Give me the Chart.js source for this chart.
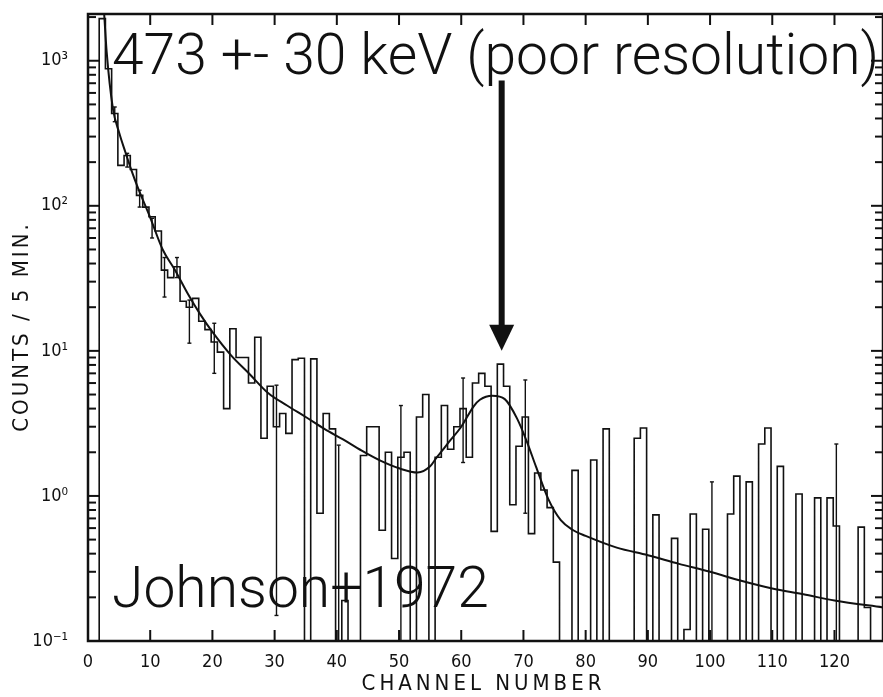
<!DOCTYPE html>
<html>
<head>
<meta charset="utf-8">
<title>Counts per channel</title>
<script src="https://cdn.jsdelivr.net/npm/chart.js@4.4.0/dist/chart.umd.min.js"></script>
<style>
  html, body { margin: 0; padding: 0; background: #fff; }
</style>
</head>
<body>
<canvas id="myChart" width="883" height="697"></canvas>
<script>
// counts / 5 min for channels 2..127 (0 = empty channel)
const firstChannel = 2;
const counts = [
  1950, 880, 433, 190, 222, 178, 118, 98, 84, 67,
  36, 32, 38, 22, 20, 23, 16, 14, 11.5, 9.8,
  4.0, 14.2, 9.0, 9.0, 6.0, 12.4, 2.5, 5.7, 3.0, 3.7,
  2.7, 8.7, 8.9, 0, 8.8, 0.76, 3.7, 2.9, 0, 0.19,
  0, 0, 1.9, 3.0, 3.0, 0.58, 2.0, 0.37, 1.85, 2.0,
  0, 3.5, 5.0, 0, 1.85, 4.2, 2.1, 3.0, 4.0, 1.85,
  6.0, 7.0, 5.7, 0.57, 8.1, 5.7, 0.87, 2.2, 3.5, 0.55,
  1.44, 1.1, 0.83, 0.35, 0, 0, 1.5, 0, 0, 1.77,
  0, 2.9, 0, 0, 0, 0, 2.5, 2.94, 0, 0.74,
  0, 0, 0.51, 0, 0.12, 0.75, 0, 0.59, 0, 0,
  0, 0.75, 1.37, 0, 1.25, 0, 2.28, 2.94, 0, 1.6,
  0, 0, 1.03, 0, 0, 0.97, 0, 0.97, 0.62, 0,
  0, 0, 0.61, 0.17, 0, 0
];

// fitted curve
const fitChannels = [2.6, 3, 4, 5, 6, 7, 8, 10, 12, 14,
  16, 18, 20, 23, 26, 29, 32, 35, 38, 41,
  44, 47, 50, 53, 55, 56, 57, 58, 60, 62,
  63, 65, 67, 69, 70.5, 72, 74, 76, 78, 80,
  85, 90, 95, 100, 105, 110, 115, 120, 128];
const fitCounts = [2100, 1150, 470, 320, 235, 175, 134, 83, 50, 36,
  25, 18, 13.5, 9.3, 6.9, 5.1, 4.2, 3.5, 2.9, 2.45,
  2.05, 1.75, 1.55, 1.45, 1.6, 1.83, 2.07, 2.35, 3.0, 4.15,
  4.6, 4.9, 4.65, 3.4, 2.4, 1.6, 0.95, 0.68, 0.58, 0.53,
  0.44, 0.39, 0.34, 0.30, 0.26, 0.23, 0.21, 0.19, 0.17];

// error bars (0 = down to the axis)
const errChannels = [4, 6, 8, 10, 12, 14, 16, 20, 30, 40, 50, 60, 70, 100, 120];
const errLow  = [380, 185, 98, 60, 23.5, 32, 11.3, 7.0, 0.15, 0, 0, 1.7, 0.76, 0, 0];
const errHigh = [480, 230, 128, 82, 44, 44, 22.4, 15.5, 5.8, 2.24, 4.2, 6.5, 6.3, 1.25, 2.28];

const xTicks = [0, 10, 20, 30, 40, 50, 60, 70, 80, 90, 100, 110, 120];
const yTicks = [0.1, 1, 10, 100, 1000];
const yTickLabels = ['10\u207B\u00B9', '10\u2070', '10\u00B9', '10\u00B2', '10\u00B3'];

const xTitle = 'CHANNEL NUMBER';
const yTitle = 'COUNTS / 5 MIN.';
const peakNote = '473 +- 30 keV (poor resolution)';
const sourceNote = 'Johnson+1972';
const arrowChannel = 66.5;   // arrow points at the peak
const arrowFrom = 730;
const arrowTo = 10;

window.onload = function () {

const lettering = '"DejaVu Sans Condensed", "DejaVu Sans", sans-serif';
const floor = 0.01;   // empty channels drop below the axis

const histPoints = [{x: firstChannel - 0.2, y: floor}];
counts.forEach((v, i) => histPoints.push({x: firstChannel + i - 0.2, y: v > 0 ? v : floor}));
histPoints.push({x: firstChannel + counts.length - 0.2, y: floor});

const fitPoints = fitChannels.map((c, i) => ({x: c, y: fitCounts[i]}));

function line(ctx, x1, y1, x2, y2) {
    ctx.beginPath();
    ctx.moveTo(x1, y1);
    ctx.lineTo(x2, y2);
    ctx.stroke();
}

function spacedText(ctx, text, cx, cy, spacing) {
    ctx.letterSpacing = spacing + 'px';
    const w = ctx.measureText(text).width - spacing;
    ctx.textAlign = 'left';
    ctx.fillText(text, cx - w / 2, cy);
    ctx.letterSpacing = '0px';
}

const frameAndNotes = {
    id: 'frameAndNotes',
    afterDraw(chart) {
        const {ctx, chartArea: {left, right, top, bottom}, scales: {x, y}} = chart;
        ctx.save();
        ctx.strokeStyle = '#111';
        ctx.fillStyle = '#111';

        // error bars
        ctx.lineWidth = 1.4;
        errChannels.forEach((c, i) => {
            const px = x.getPixelForValue(c + 0.3);
            const y1 = y.getPixelForValue(errHigh[i]);
            const y2 = Math.min(y.getPixelForValue(errLow[i]), bottom);
            line(ctx, px, y1, px, y2);
            line(ctx, px - 2, y1, px + 2, y1);
            if (errLow[i] > 0) line(ctx, px - 2, y2, px + 2, y2);
        });

        // frame
        ctx.lineWidth = 2.5;
        ctx.strokeRect(left, top, right - left, bottom - top);

        // inward ticks
        ctx.lineWidth = 2;
        xTicks.forEach(v => {
            const px = x.getPixelForValue(v);
            line(ctx, px, bottom, px, bottom - 11);
            line(ctx, px, top, px, top + 11);
        });
        yTicks.forEach(d => {
            const py = y.getPixelForValue(d);
            line(ctx, left, py, left + 12, py);
            line(ctx, right, py, right - 12, py);
            for (let m = 2; m <= 9; m++) {
                if (d * m > y.max) break;
                const pm = y.getPixelForValue(d * m);
                line(ctx, left, pm, left + 8, pm);
                line(ctx, right, pm, right - 8, pm);
            }
        });

        // axis titles
        ctx.font = '22px ' + lettering;
        ctx.textBaseline = 'middle';
        spacedText(ctx, xTitle, (left + right) / 2 - 4, 684, 4);
        ctx.save();
        ctx.translate(22, 328);
        ctx.rotate(-Math.PI / 2);
        spacedText(ctx, yTitle, 0, 0, 3);
        ctx.restore();

        // arrow
        const ax = x.getPixelForValue(arrowChannel);
        const ay1 = y.getPixelForValue(arrowFrom);
        const ay2 = y.getPixelForValue(arrowTo);
        ctx.lineWidth = 6;
        line(ctx, ax, ay1, ax, ay2 - 20);
        ctx.beginPath();
        ctx.moveTo(ax - 12.5, ay2 - 26);
        ctx.lineTo(ax + 12.5, ay2 - 26);
        ctx.lineTo(ax, ay2);
        ctx.closePath();
        ctx.fill();

        // notes
        ctx.textBaseline = 'alphabetic';
        ctx.textAlign = 'left';
        ctx.font = '300 57px Roboto, "Liberation Sans", sans-serif';
        ctx.fillText(peakNote, left + 24, top + 60);
        ctx.fillText(sourceNote, left + 24, bottom - 34);
        ctx.restore();
    }
};

const myChart = new Chart(document.getElementById('myChart').getContext('2d'), {
    type: 'line',
    data: {
        datasets: [{
            label: 'counts',
            data: histPoints,
            stepped: 'before',
            borderColor: '#111',
            borderWidth: 1.6,
            pointRadius: 0,
            fill: false
        }, {
            label: 'fit',
            data: fitPoints,
            cubicInterpolationMode: 'monotone',
            borderColor: '#111',
            borderWidth: 2,
            pointRadius: 0,
            fill: false
        }]
    },
    options: {
        responsive: false,
        animation: false,
        layout: {
            padding: {top: 14, right: 0, left: 0, bottom: 0}
        },
        plugins: {
            legend: { display: false },
            tooltip: { enabled: false }
        },
        scales: {
            x: {
                type: 'linear',
                min: 0,
                max: 127.8,
                afterBuildTicks: scale => { scale.ticks = xTicks.map(v => ({value: v})); },
                afterFit: scale => {
                    scale.height = 56;
                    scale.paddingLeft = 0;
                    scale.paddingRight = 0;
                },
                grid: { display: false },
                border: { display: false },
                ticks: {
                    color: '#111',
                    padding: 3,
                    maxRotation: 0,
                    font: { family: lettering, size: 18 }
                }
            },
            y: {
                type: 'logarithmic',
                min: 0.1,
                max: 2100,
                afterBuildTicks: scale => { scale.ticks = yTicks.map(v => ({value: v})); },
                afterFit: scale => {
                    scale.width = 88;
                    scale.paddingTop = 0;
                    scale.paddingBottom = 0;
                },
                grid: { display: false },
                border: { display: false },
                ticks: {
                    color: '#111',
                    padding: 12,
                    font: { family: lettering, size: 18 },
                    callback: function (value) {
                        const k = yTicks.indexOf(value);
                        return k >= 0 ? yTickLabels[k] : '';
                    }
                }
            }
        }
    },
    plugins: [frameAndNotes]
});

};
</script>
</body>
</html>
